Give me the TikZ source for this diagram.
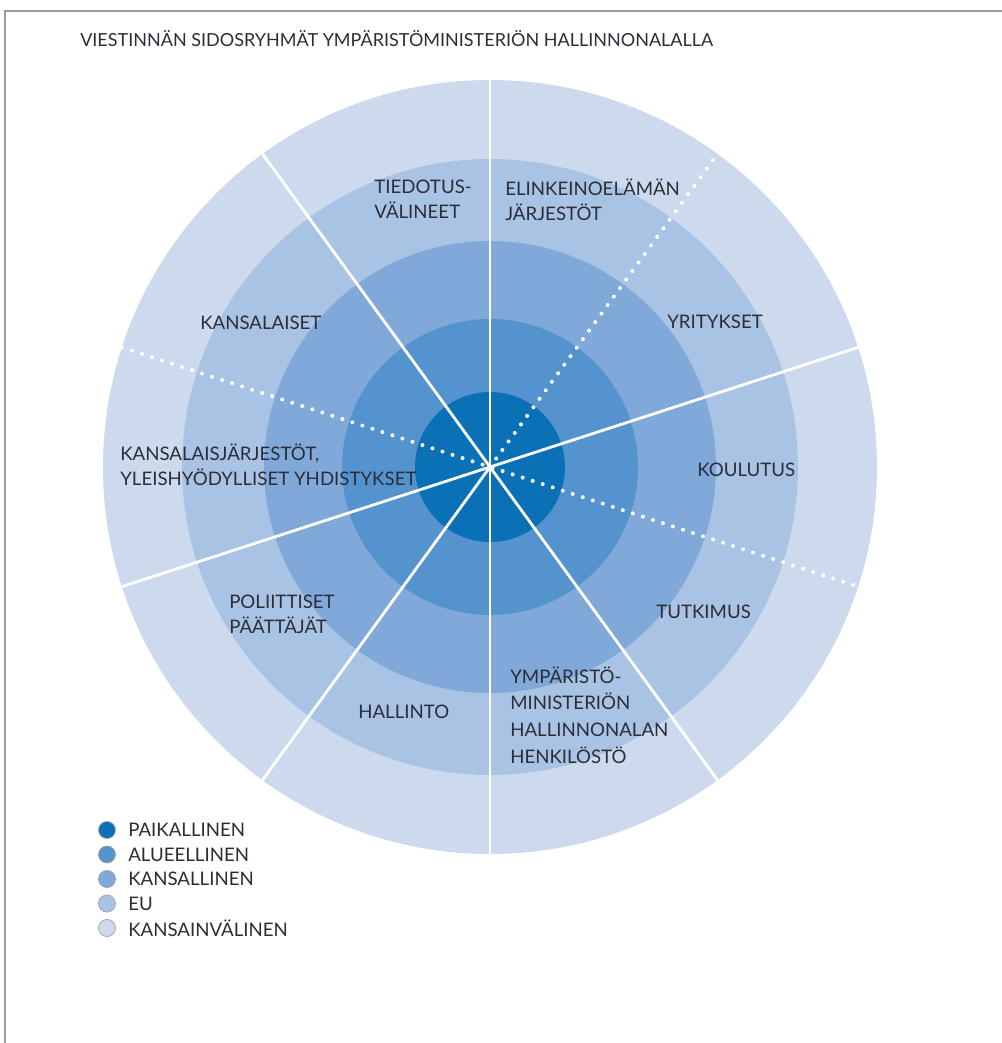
\documentclass[tikz,border=0pt]{standalone}
\usepackage{fontspec}
\setmainfont{Lato}
\definecolor{cPai}{HTML}{0A71B7}
\definecolor{cAlu}{HTML}{5593CE}
\definecolor{cKan}{HTML}{80A8D9}
\definecolor{cEU}{HTML}{A9C3E4}
\definecolor{cInt}{HTML}{CDDAEE}
\definecolor{txt}{HTML}{2B2E38}
\definecolor{framecol}{HTML}{9A9A9A}
\begin{document}
\begin{tikzpicture}[x=0.75pt,y=-0.75pt,
  lbl/.style={inner sep=0pt, font=\fontsize{14}{18.5}\selectfont, text=txt, align=left, anchor=west},
  ttl/.style={inner sep=0pt, font=\fontsize{13.5}{16}\selectfont, text=txt, anchor=west},
  divider/.style={white, line width=2.1pt},
  dotdiv/.style={white, line width=3pt, line cap=round, dash pattern=on 0pt off 7.9pt},
  legdot/.style={circle, draw=gray!70, line width=0.6pt, minimum size=12.8pt, inner sep=0pt}]
\useasboundingbox (0,0) rectangle (1002,1043);
\fill[white] (0,0) rectangle (1002,1043);
\draw[framecol, line width=1.9pt] (5,1043) -- (5,11) -- (1002,11);

\node[ttl] (title) at (80,39) {VIESTINNÄN SIDOSRYHMÄT YMPÄRISTÖMINISTERIÖN HALLINNONALALLA};

\coordinate (c) at (490,467);
\fill[cInt] (c) circle[radius=290.25pt];
\fill[cEU] (c) circle[radius=231pt];
\fill[cKan] (c) circle[radius=169.5pt];
\fill[cAlu] (c) circle[radius=111pt];
\fill[cPai] (c) circle[radius=56.25pt];

\foreach \a in {18,54,90,126,162,198,234,270,306,342}
  \path (c) ++(\a:290.25pt) coordinate (e\a);

\draw[dotdiv] (e162) -- (e342);
\draw[dotdiv] (c) -- (e54);
\draw[divider] (e90) -- (e270);
\draw[divider] (e126) -- (e306);
\draw[divider] (e18) -- (e198);
\draw[divider] (c) -- (e234);

\node[lbl, anchor=east] (tiedotus) at (472,199) {TIEDOTUS-\\VÄLINEET};
\node[lbl] (elinkeino) at (505,200) {ELINKEINOELÄMÄN\\JÄRJESTÖT};
\node[lbl] (kansalaiset) at (200,323) {KANSALAISET};
\node[lbl] (yritykset) at (667,322) {YRITYKSET};
\node[lbl] (kjarj) at (120,465) {KANSALAISJÄRJESTÖT,\\YLEISHYÖDYLLISET YHDISTYKSET};
\node[lbl] (koulutus) at (697,470) {KOULUTUS};
\node[lbl] (poliittiset) at (229,614) {POLIITTISET\\PÄÄTTÄJÄT};
\node[lbl] (tutkimus) at (656,612) {TUTKIMUS};
\node[lbl] (hallinto) at (358,712) {HALLINTO};
\node[lbl, font=\fontsize{14}{20}\selectfont] (henkilosto) at (510,715) {YMPÄRISTÖ-\\MINISTERIÖN\\HALLINNONALAN\\HENKILÖSTÖ};

\foreach \i/\col/\t in {0/cPai/PAIKALLINEN,1/cAlu/ALUEELLINEN,2/cKan/KANSALLINEN,3/cEU/EU,4/cInt/KANSAINVÄLINEN}{
  \node[legdot, fill=\col] (ld\i) at (107,830+24.5*\i) {};
  \node[lbl] (lt\i) at (128,830+24.5*\i) {\t};
}
\end{tikzpicture}
\end{document}
